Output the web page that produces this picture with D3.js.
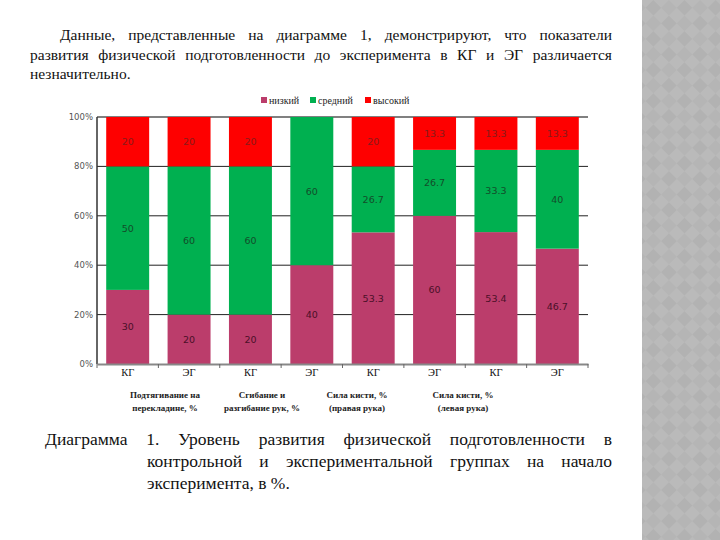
<!DOCTYPE html>
<html><head><meta charset="utf-8">
<script src="https://cdn.jsdelivr.net/npm/d3@7/dist/d3.min.js"></script>
<style>body{margin:0;background:#fff;}svg{display:block;}</style>
</head><body>
<svg id="c" width="720" height="540"></svg>
<script>
const categories = ["КГ","ЭГ","КГ","ЭГ","КГ","ЭГ","КГ","ЭГ"];
const seriesNames = ["низкий","средний","высокий"];
const low  = [30, 20, 20, 40, 53.3, 60, 53.4, 46.7];
const mid  = [50, 60, 60, 60, 26.7, 26.7, 33.3, 40];
const high = [20, 20, 20, 0, 20, 13.3, 13.3, 13.3];
const yTicks = [0, 20, 40, 60, 80, 100];
const groupLabels = [["Подтягивание на","перекладине, %"],["Сгибание и","разгибание рук, %"],["Сила кисти, %","(правая рука)"],["Сила кисти, %","(левая рука)"]];
const groupLabelX = [165, 262, 357, 463];
const introText = "Данные, представленные на диаграмме 1, демонстрируют, что показатели развития физической подготовленности до эксперимента в КГ и ЭГ различается незначительно.";
const captionText = "Диаграмма 1. Уровень развития физической подготовленности в контрольной и экспериментальной группах на начало эксперимента, в %.";
const colors = ["#bb3d6b","#00b050","#fe0000"];

const SERIF = "'Liberation Serif'";
const SANS = "'DejaVu Sans'";

const svg = d3.select("#c");

// right decorative strip
const defs = svg.append("defs");
const pat = defs.append("pattern").attr("id","dia").attr("width",22).attr("height",22)
  .attr("patternUnits","userSpaceOnUse").attr("patternTransform","rotate(45)");
pat.append("rect").attr("width",22).attr("height",22).attr("fill","#bababa");
pat.append("rect").attr("width",11).attr("height",11).attr("fill","#b2b2b2");
pat.append("rect").attr("x",11).attr("y",11).attr("width",11).attr("height",11).attr("fill","#b5b5b5");
svg.append("rect").attr("x",642).attr("y",0).attr("width",78).attr("height",540).attr("fill","url(#dia)");

// justified text helper
function justify(g, text, lines, fontSize) {
  const words = text.split(" ");
  let wi = 0;
  const tmp = g.append("text").style("font-family", SERIF).style("font-size",fontSize+"px");
  function w(s){ tmp.text(s); return tmp.node().getComputedTextLength(); }
  const spaceW = w("a a") - w("aa");
  lines.forEach((ln, li) => {
    const width = ln.x1 - ln.x0;
    const lw = [];
    let tot = 0;
    while (wi < words.length) {
      const ww = w(words[wi]);
      const need = tot + (lw.length ? spaceW : 0) + ww;
      if (lw.length && need > width && li < lines.length - 1) break;
      lw.push({t: words[wi], w: ww});
      tot = need; wi++;
      if (li < lines.length - 1 && ln.count && lw.length >= ln.count) break;
    }
    const wordsW = d3.sum(lw, d => d.w);
    const last = li === lines.length - 1;
    const gap = (!last && lw.length > 1) ? (width - wordsW) / (lw.length - 1) : spaceW;
    let x = ln.x0;
    lw.forEach(d => {
      g.append("text").attr("x", x).attr("y", ln.y)
        .style("font-family", SERIF).style("font-size", fontSize+"px")
        .attr("fill","#111").text(d.t);
      x += d.w + gap;
    });
  });
  tmp.remove();
}

justify(svg.append("g"), introText, [
  {x0:60, x1:612, y:40, count:8},
  {x0:30, x1:612, y:60, count:10},
  {x0:30, x1:612, y:79}
], 15.5);

justify(svg.append("g"), captionText, [
  {x0:45, x1:612, y:445, count:7},
  {x0:147, x1:612, y:467, count:6},
  {x0:147, x1:612, y:489}
], 17.5);

// chart
const m = {left:97, right:588, top:117, bottom:364};
const x = d3.scaleBand().domain(d3.range(categories.length)).range([m.left, m.right]).paddingInner(0.3).paddingOuter(0.15);
const y = d3.scaleLinear().domain([0,100]).range([m.bottom, m.top]);

const chart = svg.append("g");
chart.selectAll("line.grid").data(yTicks.filter(t => t > 0)).join("line")
  .attr("x1", m.left).attr("x2", m.right).attr("y1", d => y(d)).attr("y2", d => y(d))
  .attr("stroke", d => d === 100 ? "#808080" : "#222").attr("stroke-width", d => d === 100 ? 2 : 1);

const stackData = categories.map((c, i) => ({i, low: low[i], mid: mid[i], high: high[i]}));
const stack = d3.stack().keys(["low","mid","high"])(stackData);

stack.forEach((layer, li) => {
  chart.append("g").selectAll("rect").data(layer).join("rect")
    .attr("x", d => x(d.data.i)).attr("width", x.bandwidth())
    .attr("y", d => y(d[1])).attr("height", d => y(d[0]) - y(d[1]))
    .attr("fill", colors[li]);
  chart.append("g").selectAll("text").data(layer.filter(d => d[1] - d[0] > 0)).join("text")
    .attr("x", d => x(d.data.i) + x.bandwidth()/2)
    .attr("y", d => y((d[0] + d[1]) / 2) + 3.5)
    .attr("text-anchor","middle").style("font-family", SANS).style("font-size", "9.5px")
    .attr("fill", li === 2 ? "#8a1a1a" : (li === 1 ? "#134d2a" : "#4a1028"))
    .text(d => String(+(d[1]-d[0]).toFixed(1)));
});

// y axis
chart.append("line").attr("x1", m.left).attr("x2", m.left).attr("y1", m.top).attr("y2", m.bottom)
  .attr("stroke","#333").attr("stroke-width",1.5);
chart.selectAll("text.yt").data(yTicks).join("text")
  .attr("x", m.left - 4).attr("y", d => y(d) + 3).attr("text-anchor","end")
  .style("font-family", SANS).style("font-size", "8.5px").attr("fill","#555")
  .text(d => d + "%");

// x axis
const xAxis = d3.axisBottom(x).tickSize(0).tickFormat(i => categories[i]);
const gx = chart.append("g").attr("transform", `translate(0,${m.bottom})`).call(xAxis);
gx.select(".domain").attr("stroke","#888").attr("stroke-width",2);
gx.selectAll("text").style("font-family", SERIF).style("font-size", "10.5px").attr("fill","#111").attr("dy","0.9em");
const step = (m.right - m.left) / categories.length;
chart.selectAll("line.xt").data(d3.range(categories.length + 1)).join("line")
  .attr("x1", i => m.left + i * step).attr("x2", i => m.left + i * step)
  .attr("y1", m.bottom).attr("y2", m.bottom + 4).attr("stroke","#666");

// group labels
groupLabels.forEach((lines, gi) => {
  lines.forEach((t, k) => {
    chart.append("text").attr("x", groupLabelX[gi]).attr("y", 398 + k * 12.5)
      .attr("text-anchor","middle").style("font-family", SERIF).style("font-size", "9px").style("font-weight","bold")
      .attr("fill","#222").text(t);
  });
});

// legend
const legX = [261, 310, 365];
seriesNames.forEach((n, i) => {
  chart.append("rect").attr("x", legX[i]).attr("y", 97).attr("width", 6).attr("height", 6).attr("fill", colors[i]);
  chart.append("text").attr("x", legX[i] + 8).attr("y", 104)
    .style("font-family", SERIF).style("font-size", "10px")
    .attr("fill","#222").text(n);
});
</script>
</body></html>
